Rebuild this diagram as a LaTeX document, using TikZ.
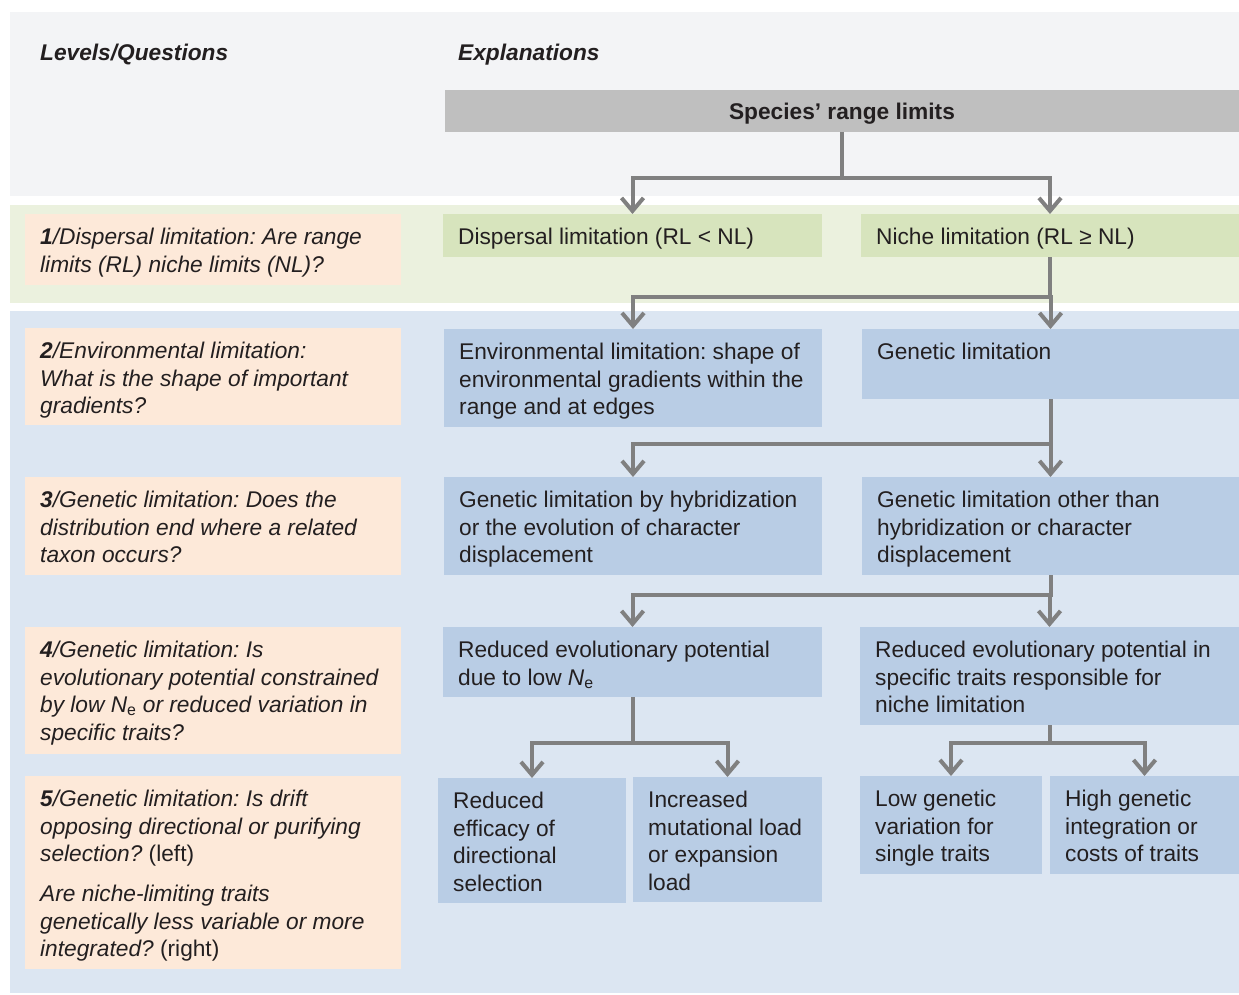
\documentclass[tikz,border=0pt]{standalone}
\usepackage{fontspec}
\setmainfont{Liberation Sans}
\usetikzlibrary{arrows.meta}
\frenchspacing

\definecolor{bandtop}{HTML}{F3F4F6}
\definecolor{bandgreen}{HTML}{EBF1DE}
\definecolor{bandblue}{HTML}{DCE6F2}
\definecolor{peach}{HTML}{FDE9D9}
\definecolor{speciesgrey}{HTML}{BFBFBF}
\definecolor{greenbox}{HTML}{D7E4BD}
\definecolor{bluebox}{HTML}{B9CDE5}
\definecolor{linkgrey}{HTML}{808080}
\definecolor{ink}{HTML}{231F20}

\newcommand{\fs}{\fontsize{22.7}{27.5}\selectfont}

\begin{document}
\begin{tikzpicture}[x=1pt,y=-1pt,
  cell/.style={anchor=north west,inner sep=0pt,outer sep=0pt},
  txt/.style={anchor=north west,align=left,inner xsep=15pt,inner ysep=14pt,font=\fs,text=ink},
  qtxt/.style={txt,font=\fs\itshape},
  qbox/.style={cell,fill=peach},
  gbox/.style={cell,fill=greenbox},
  bbox/.style={cell,fill=bluebox},
  link/.style={draw=linkgrey,line width=4pt,-{Straight Barb[length=13pt,width=22pt]}}]

\useasboundingbox (0,0) rectangle (1239,995);
\fill[white] (0,0) rectangle (1239,995);

% bands
\fill[bandtop] (10,12) rectangle (1239,196);
\fill[bandgreen] (10,205) rectangle (1239,303);
\fill[bandblue] (10,311) rectangle (1239,993);

% headers
\node[anchor=base west,inner sep=0pt,font=\fs\bfseries\itshape,text=ink] (hlevels) at (40,61) {Levels/Questions};
\node[anchor=base west,inner sep=0pt,font=\fs\bfseries\itshape,text=ink] (hexpl) at (458,61) {Explanations};

% questions
\node[qbox,minimum width=376,minimum height=71] (q1) at (25,214) {};
\node[qtxt] (q1t) at (q1.north west) {\textbf{1}/Dispersal limitation: Are range\\limits (RL) niche limits (NL)?};
\node[qbox,minimum width=376,minimum height=97] (q2) at (25,328) {};
\node[qtxt] (q2t) at (q2.north west) {\textbf{2}/Environmental limitation:\\What is the shape of important\\gradients?};
\node[qbox,minimum width=376,minimum height=98] (q3) at (25,477) {};
\node[qtxt] (q3t) at (q3.north west) {\textbf{3}/Genetic limitation: Does the\\distribution end where a related\\taxon occurs?};
\node[qbox,minimum width=376,minimum height=127] (q4) at (25,627) {};
\node[qtxt] (q4t) at (q4.north west) {\textbf{4}/Genetic limitation: Is\\evolutionary potential constrained\\by low N\textsubscript{\upshape e} or reduced variation in\\specific traits?};
\node[qbox,minimum width=376,minimum height=193] (q5) at (25,776) {};
\node[qtxt] (q5t) at (q5.north west) {\textbf{5}/Genetic limitation: Is drift\\opposing directional or purifying\\selection? \textup{(left)}\\[12.5pt]Are niche-limiting traits\\genetically less variable or more\\integrated? \textup{(right)}};

% explanations
\node[cell,fill=speciesgrey,minimum width=794,minimum height=42,text height=18pt,text depth=0pt,font=\fs\bfseries,text=ink] (species) at (445,90) {Species’ range limits};
\node[gbox,minimum width=379,minimum height=43] (dispersal) at (443,214) {};
\node[txt] (dispersalt) at (dispersal.north west) {Dispersal limitation (RL < NL)};
\node[gbox,minimum width=378,minimum height=43] (niche) at (861,214) {};
\node[txt] (nichet) at (niche.north west) {Niche limitation (RL ≥ NL)};
\node[bbox,minimum width=378,minimum height=98] (envlim) at (444,329) {};
\node[txt] (envlimt) at (envlim.north west) {Environmental limitation: shape of\\environmental gradients within the\\range and at edges};
\node[bbox,minimum width=377,minimum height=70] (genlim) at (862,329) {};
\node[txt] (genlimt) at (genlim.north west) {Genetic limitation};
\node[bbox,minimum width=378,minimum height=98] (hybrid) at (444,477) {};
\node[txt] (hybridt) at (hybrid.north west) {Genetic limitation by hybridization\\or the evolution of character\\displacement};
\node[bbox,minimum width=377,minimum height=98] (other) at (862,477) {};
\node[txt] (othert) at (other.north west) {Genetic limitation other than\\hybridization or character\\displacement};
\node[bbox,minimum width=379,minimum height=70] (redne) at (443,627) {};
\node[txt] (rednet) at (redne.north west) {Reduced evolutionary potential\\due to low \textit{N}\textsubscript{e}};
\node[bbox,minimum width=379,minimum height=98] (redspec) at (860,627) {};
\node[txt] (redspect) at (redspec.north west) {Reduced evolutionary potential in\\specific traits responsible for\\niche limitation};
\node[bbox,minimum width=188,minimum height=125] (efficacy) at (438,778) {};
\node[txt] (efficacyt) at (efficacy.north west) {Reduced\\efficacy of\\directional\\selection};
\node[bbox,minimum width=189,minimum height=125] (mutload) at (633,777) {};
\node[txt] (mutloadt) at (mutload.north west) {Increased\\mutational load\\or expansion\\load};
\node[bbox,minimum width=182,minimum height=98] (lowvar) at (860,776) {};
\node[txt] (lowvart) at (lowvar.north west) {Low genetic\\variation for\\single traits};
\node[bbox,minimum width=189,minimum height=98] (highint) at (1050,776) {};
\node[txt] (highintt) at (highint.north west) {High genetic\\integration or\\costs of traits};

% connectors
\draw[link] (species.south) -- ++(0,46) -| (dispersal.north);
\draw[link] (species.south) -- ++(0,46) -| (niche.north);
\draw[link] (niche.south) -- ++(0,40) -| (envlim.north);
\draw[link] (niche.south) -- ++(0,40) -| (genlim.north);
\draw[link] (genlim.south) -- ++(0,45) -| (hybrid.north);
\draw[link] (genlim.south) -- ++(0,45) -| (other.north);
\draw[link] (other.south) -- ++(0,20) -| (redne.north);
\draw[link] (other.south) -- ++(0,20) -| (redspec.north);
\draw[link] (redne.south) -- ++(0,46) -| (efficacy.north);
\draw[link] (redne.south) -- ++(0,46) -| (mutload.north);
\draw[link] (redspec.south) -- ++(0,18) -| (lowvar.north);
\draw[link] (redspec.south) -- ++(0,18) -| (highint.north);
\end{tikzpicture}
\end{document}
